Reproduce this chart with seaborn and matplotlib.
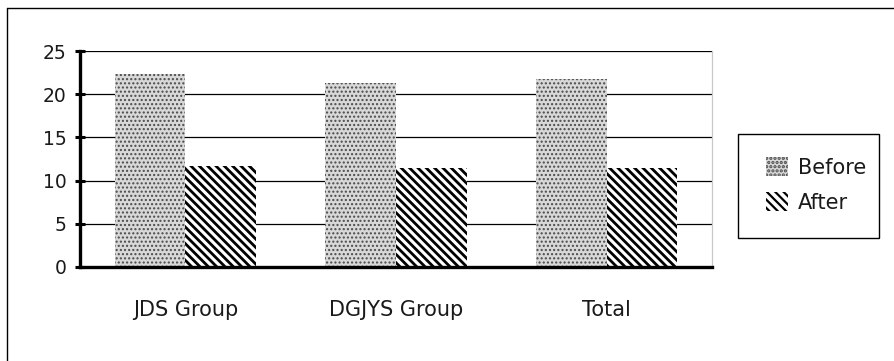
import matplotlib
matplotlib.use("Agg")
import matplotlib.pyplot as plt
from matplotlib.lines import Line2D
from matplotlib.patches import Rectangle, Patch
import seaborn as sns
import pandas as pd

groups = ["JDS Group", "DGJYS Group", "Total"]
before = [22.3, 21.3, 21.8]
after = [11.7, 11.5, 11.5]
series = ["Before", "After"]
y_ticks = [0, 5, 10, 15, 20, 25]

df = pd.DataFrame({
    "group": groups * 2,
    "period": [series[0]] * len(groups) + [series[1]] * len(groups),
    "value": before + after,
})

sns.set_theme(style="white")
plt.rcParams["font.family"] = ["DejaVu Sans"]
plt.rcParams["hatch.linewidth"] = 1.6

fig = plt.figure(figsize=(8.95, 3.61), dpi=100)
ax = fig.add_axes([80 / 895, 1 - 267 / 361, (712 - 80) / 895, (267 - 51) / 361])

sns.barplot(data=df, x="group", y="value", hue="period", hue_order=series,
            order=groups, width=0.67, ax=ax, legend=False, errorbar=None,
            zorder=3)

styles = {
    "Before": dict(face="#d8d8d8", hatch_color="#4a4a4a", hatch="....", hlw=1.0),
    "After": dict(face="white", hatch_color="black", hatch="\\\\\\\\", hlw=2.0),
}
for cont, name in zip(ax.containers, series):
    st = styles[name]
    for bar in cont:
        bar.set_facecolor(st["face"])
        bar.set_edgecolor(st["hatch_color"])
        bar.set_linewidth(0)
        bar.set_hatch(st["hatch"])
        try:
            bar.set_hatch_linewidth(st["hlw"])
        except AttributeError:
            pass

ax.set_ylim(0, 25)
ax.set_xlim(-0.5, len(groups) - 0.5)
ax.set_yticks(y_ticks)
ax.set_yticklabels([str(t) for t in y_ticks])
ax.yaxis.grid(True, color="black", linewidth=0.9, zorder=1)
ax.set_axisbelow(True)
ax.set_xlabel("")
ax.set_ylabel("")

ax.spines["top"].set_visible(False)
ax.spines["right"].set_color("#c8c8c8")
ax.spines["right"].set_linewidth(0.9)
ax.spines["left"].set_color("black")
ax.spines["left"].set_linewidth(2.4)
ax.spines["bottom"].set_color("black")
ax.spines["bottom"].set_linewidth(2.4)
ax.spines["bottom"].set_zorder(5)

ax.tick_params(axis="y", direction="inout", length=7, width=2.2, color="black",
               labelsize=13.5, pad=6, left=True, labelcolor="#1a1a1a")
ax.tick_params(axis="x", length=0, labelsize=15, pad=24, labelcolor="#1a1a1a")

# Legend with a plain rectangular frame
handles = []
for s in series:
    h = Patch(facecolor=styles[s]["face"], edgecolor=styles[s]["hatch_color"],
              hatch=styles[s]["hatch"], linewidth=0)
    try:
        h.set_hatch_linewidth(styles[s]["hlw"])
    except AttributeError:
        pass
    handles.append(h)

fig.add_artist(Rectangle((738 / 895, 1 - 238 / 361), (879 - 738) / 895,
                         (238 - 134) / 361, transform=fig.transFigure,
                         facecolor="white", edgecolor="black", linewidth=1.0))
leg = fig.legend(handles, series, loc="center", bbox_to_anchor=(816 / 895, 1 - 185 / 361),
                 frameon=False, fontsize=15, handlelength=1.06, handleheight=1.0,
                 handletextpad=0.5, labelspacing=0.7)
for t in leg.get_texts():
    t.set_color("#1a1a1a")

# Outer frame lines (top and left edges)
fig.add_artist(Line2D([7 / 895, 1.0], [1 - 8 / 361, 1 - 8 / 361],
                      transform=fig.transFigure, color="black", linewidth=1.0))
fig.add_artist(Line2D([7 / 895, 7 / 895], [0.0, 1 - 8 / 361],
                      transform=fig.transFigure, color="black", linewidth=1.0))

fig.savefig("out.png", dpi=100, facecolor="white")
